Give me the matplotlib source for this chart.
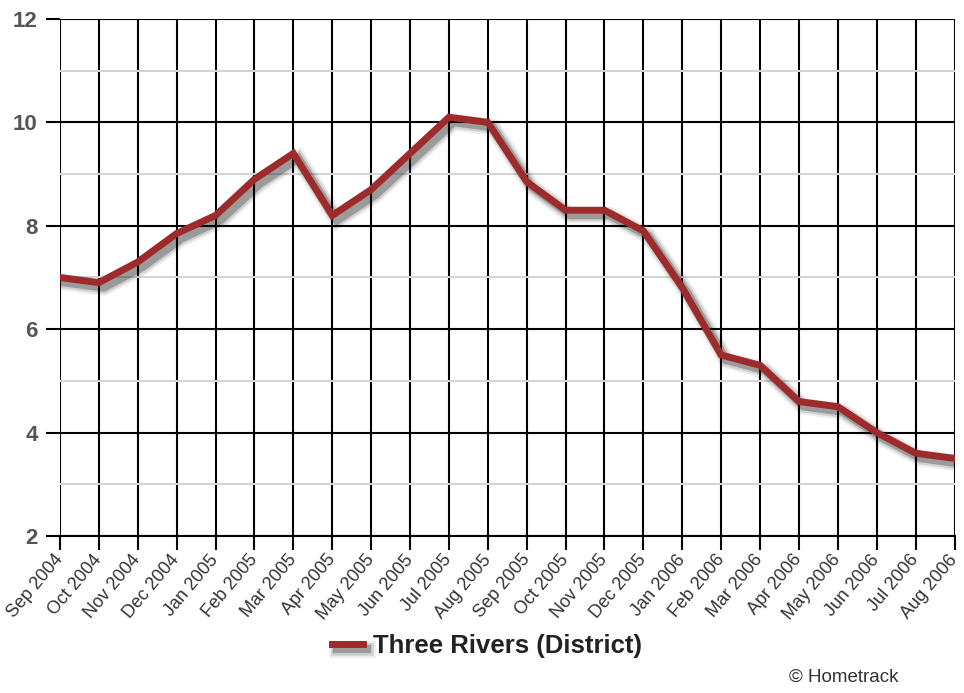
import matplotlib.pyplot as plt
import matplotlib.patheffects as pe
import numpy as np

# monthly values for Three Rivers (District)
months = ["Sep 2004", "Oct 2004", "Nov 2004", "Dec 2004", "Jan 2005", "Feb 2005",
          "Mar 2005", "Apr 2005", "May 2005", "Jun 2005", "Jul 2005", "Aug 2005",
          "Sep 2005", "Oct 2005", "Nov 2005", "Dec 2005", "Jan 2006", "Feb 2006",
          "Mar 2006", "Apr 2006", "May 2006", "Jun 2006", "Jul 2006", "Aug 2006"]
values = [7.0, 6.9, 7.3, 7.85, 8.2, 8.9, 9.4, 8.2, 8.7, 9.4, 10.1, 10.0,
          8.85, 8.3, 8.3, 7.9, 6.8, 5.5, 5.3, 4.6, 4.5, 4.0, 3.6, 3.5]
series_name = "Three Rivers (District)"
major_ticks = [2, 4, 6, 8, 10, 12]
minor_ticks = [3, 5, 7, 9, 11]

plt.rcParams["font.family"] = ["Liberation Sans", "DejaVu Sans"]

fig = plt.figure(figsize=(9.64, 6.93), dpi=100)
ax = fig.add_axes([0.0622, 0.2266, 0.928, 0.746])

x = np.arange(len(months))

# soft drop shadow built from a few stacked offset strokes
shadow = [
    pe.SimpleLineShadow(offset=(3.5, -3.5), shadow_color="black", alpha=0.07, linewidth=12),
    pe.SimpleLineShadow(offset=(3.5, -3.5), shadow_color="black", alpha=0.12, linewidth=9),
    pe.SimpleLineShadow(offset=(3.5, -3.5), shadow_color="black", alpha=0.25, linewidth=6),
    pe.Normal(),
]
ax.plot(x, values, color="#9e2b2b", lw=5, solid_joinstyle="miter",
        label=series_name, path_effects=shadow, zorder=5)

ax.set_xlim(0, len(months) - 1)
ax.set_ylim(2, 12)
ax.set_xticks(x)
ax.set_xticklabels(months, rotation=50, ha="right", va="center",
                   rotation_mode="anchor", fontsize=13, color="#333333")
ax.set_yticks(major_ticks)
ax.set_yticks(minor_ticks, minor=True)
ax.tick_params(axis="y", which="major", length=10, width=1.5, labelsize=16,
               labelcolor="#555555", pad=6)
for lbl in ax.get_yticklabels():
    lbl.set_fontweight("bold")
ax.tick_params(axis="y", which="minor", length=0)
ax.tick_params(axis="x", length=10, width=1.5, pad=5)

ax.grid(axis="x", color="black", lw=1.5)
ax.grid(axis="y", which="major", color="black", lw=1.5)
ax.grid(axis="y", which="minor", color="#d4d4d4", lw=1.5)
ax.set_axisbelow(True)

for side in ["top", "right", "left"]:
    ax.spines[side].set_visible(False)
ax.spines["bottom"].set_linewidth(1.5)

leg = fig.legend(loc="center", bbox_to_anchor=(0.505, 0.068), frameon=False,
                 handlelength=1.2, handletextpad=0.4,
                 prop={"size": 18.5, "weight": "bold"})
for t in leg.get_texts():
    t.set_color("#222222")

fig.text(0.875, 0.01, "\u00a9 Hometrack", fontsize=13.5, color="#333333",
         ha="center", va="bottom")

fig.savefig("out.png", dpi=100)
